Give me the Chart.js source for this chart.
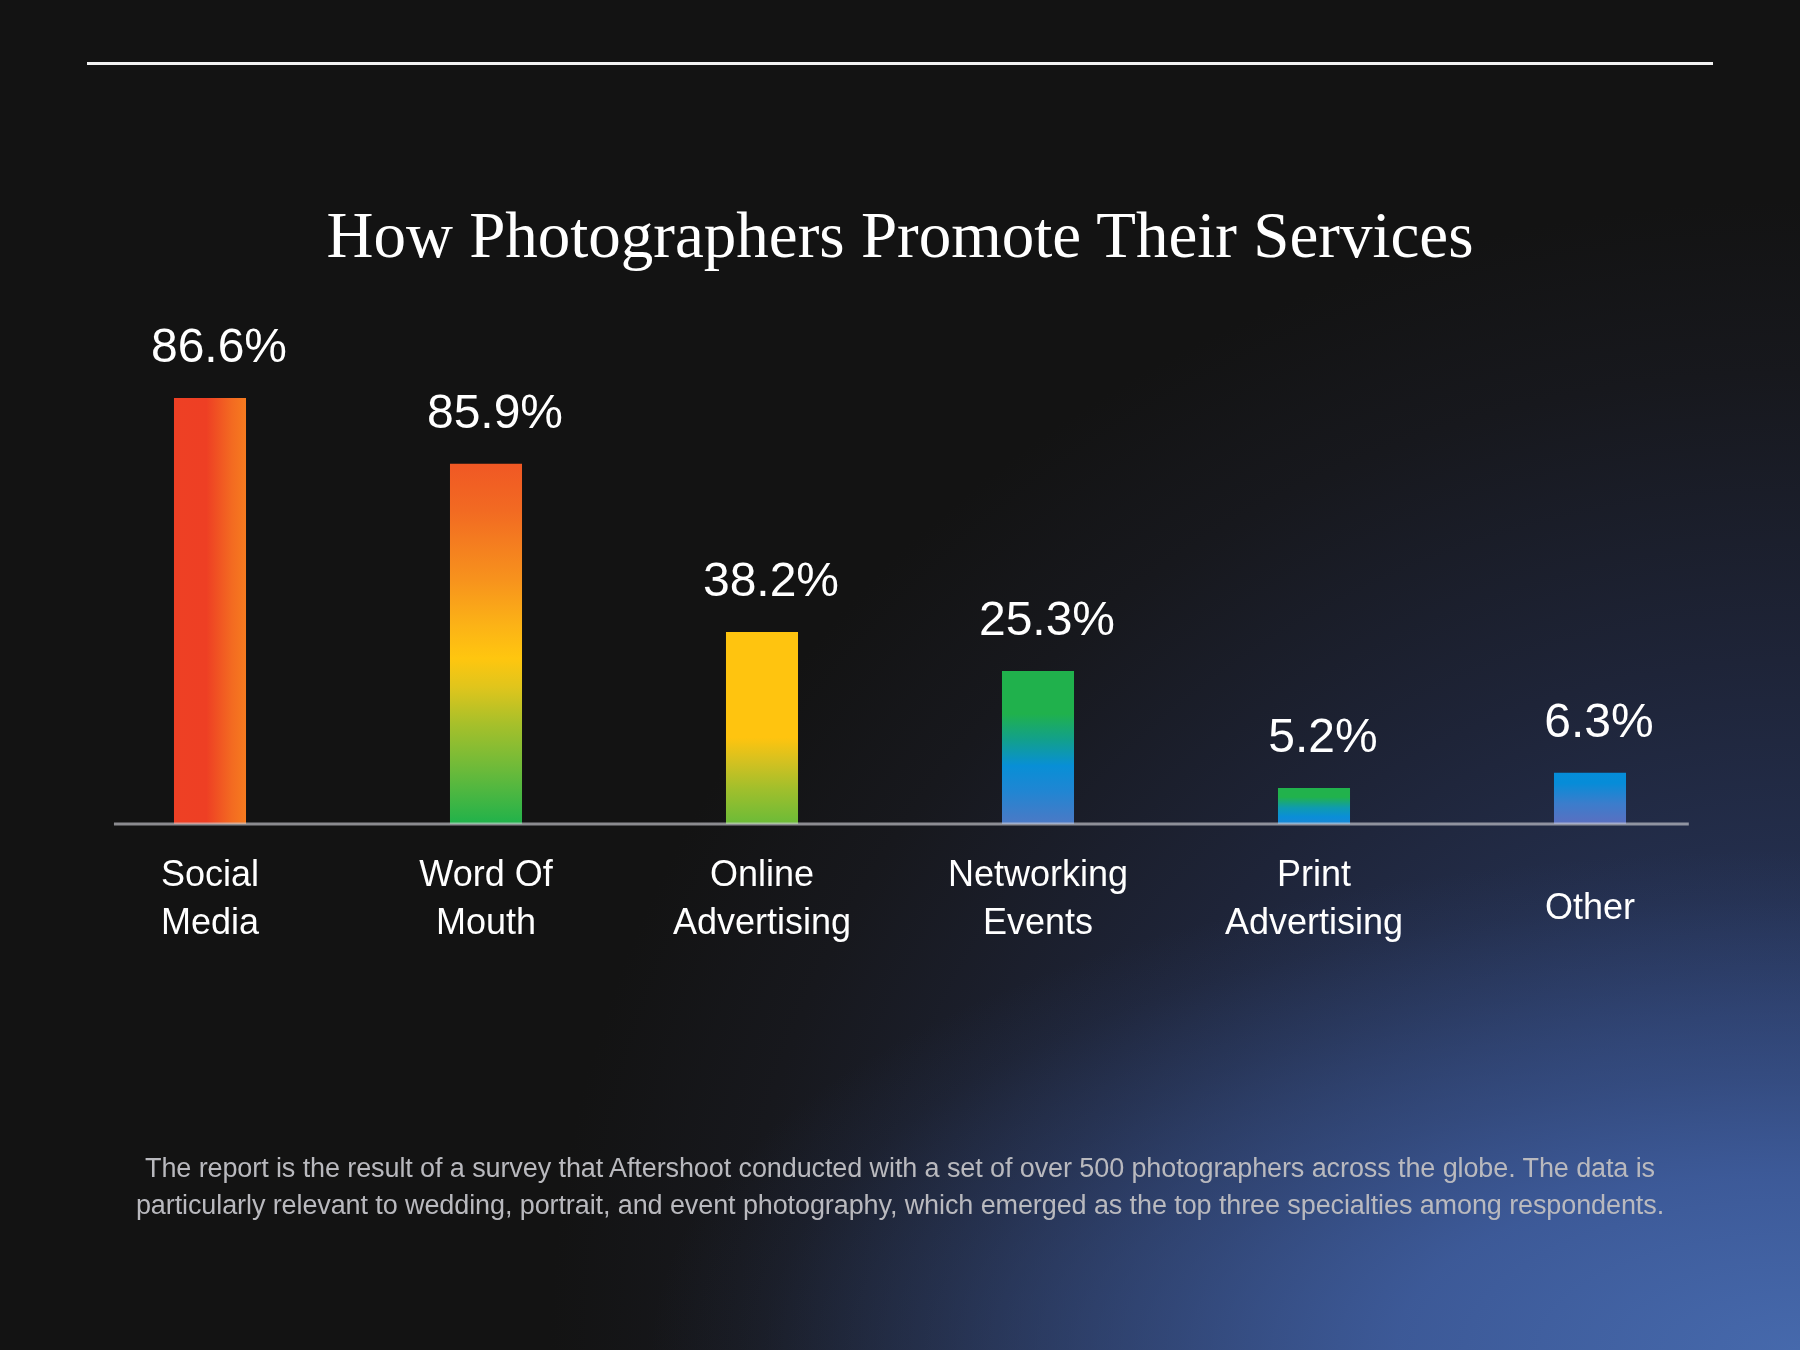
<!DOCTYPE html>
<html lang="en">
<head>
<meta charset="utf-8">
<title>How Photographers Promote Their Services</title>
<script src="https://cdn.jsdelivr.net/npm/chart.js@4.4.1/dist/chart.umd.min.js"></script>
<style>
  html, body {
    margin: 0;
    padding: 0;
  }
  body {
    width: 1800px;
    height: 1350px;
    position: relative;
    overflow: hidden;
    background-color: #131313;
    background-image:
      radial-gradient(1150px 500px at 100% 100%,
        rgba(70,105,172,1) 0%, rgba(62,92,156,0.93) 35%, rgba(58,85,144,0.68) 55%,
        rgba(58,85,144,0.32) 75%, rgba(58,85,144,0.09) 90%, rgba(58,85,144,0) 100%),
      radial-gradient(1250px 1150px at 100% 100%,
        #2d4070 0%, #27355a 30%, #1e2438 60%, #17181d 85%, rgba(19,19,19,0) 100%);
  }
  .rule {
    position: absolute;
    left: 87px;
    top: 62px;
    width: 1626px;
    height: 3px;
    background: #f2f2f2;
  }
  .title {
    position: absolute;
    top: 203px;
    left: 0;
    width: 1800px;
    text-align: center;
    font: 65px/65px 'Liberation Serif', 'DejaVu Serif', serif;
    color: #ffffff;
  }
  .note {
    position: absolute;
    top: 1150px;
    left: 0;
    width: 1800px;
    text-align: center;
    font: 27px/37px 'Liberation Sans', Arial, sans-serif;
    letter-spacing: -0.1px;
    color: #b9b9be;
  }
  #chart {
    position: absolute;
    left: 0;
    top: 0;
  }
</style>
</head>
<body>

<div class="rule"></div>
<div class="title">How Photographers Promote Their Services</div>
<canvas id="chart" width="1800" height="1350"></canvas>
<div class="note">
  The report is the result of a survey that Aftershoot conducted with a set of over 500 photographers across the globe. The data is<br>
  particularly relevant to wedding, portrait, and event photography, which emerged as the top three specialties among respondents.
</div>

<script>
/* =====================================================
   Data
===================================================== */
const categories = [
  ['Social', 'Media'],
  ['Word Of', 'Mouth'],
  ['Online', 'Advertising'],
  ['Networking', 'Events'],
  ['Print', 'Advertising'],
  'Other'
];

// percentages printed above the bars
const percentLabels = [86.6, 85.9, 38.2, 25.3, 5.2, 6.3];

// bar heights as drawn in the picture (same % units as the first bar)
const barHeights = [86.6, 73.2, 39.0, 31.1, 7.3, 10.4];

/* =====================================================
   Bar gradients
===================================================== */
const barGradients = [
  { dir: 'h', stops: [[0, '#ee4024'], [0.45, '#ee3f24'], [0.8, '#f36a21'], [1, '#f67b1f']] },
  { dir: 'v', stops: [[0, '#f05824'], [0.13, '#f26a22'], [0.32, '#f7921d'], [0.45, '#fcb316'],
                      [0.54, '#ffc60f'], [0.62, '#e0c51c'], [0.72, '#a8c02a'], [0.85, '#6bba3a'], [1, '#20b24b']] },
  { dir: 'v', stops: [[0, '#ffc40f'], [0.55, '#ffc40f'], [0.68, '#d2c121'], [0.82, '#a0bf2c'], [1, '#6bbb38']] },
  { dir: 'v', stops: [[0, '#20b14c'], [0.28, '#20b14c'], [0.45, '#12a08c'], [0.62, '#088fd6'], [0.78, '#1f86d3'], [1, '#4c79c5']] },
  { dir: 'v', stops: [[0, '#21b24c'], [0.25, '#21b24c'], [0.55, '#0f9bb0'], [0.8, '#0a8ed8'], [1, '#1a87d6']] },
  { dir: 'v', stops: [[0, '#058dd9'], [0.2, '#068cd8'], [0.6, '#3b7dcc'], [1, '#5b6fc0']] }
];

const BAR_PCT = 0.261;
const TICK_FONT = '"Liberation Sans", Arial, sans-serif';

function barFill(ctx) {
  const chart = ctx.chart;
  const g = barGradients[ctx.dataIndex];
  if (!chart.chartArea || !g) return '#888';
  const xs = chart.scales.x, ys = chart.scales.y;
  let grad;
  if (g.dir === 'h') {
    const cx = xs.getPixelForValue(ctx.dataIndex);
    const half = (xs.width / categories.length) * BAR_PCT / 2;
    grad = chart.ctx.createLinearGradient(cx - half, 0, cx + half, 0);
  } else {
    const top = ys.getPixelForValue(barHeights[ctx.dataIndex]);
    const bottom = ys.getPixelForValue(0);
    grad = chart.ctx.createLinearGradient(0, top, 0, bottom);
  }
  g.stops.forEach(([o, c]) => grad.addColorStop(o, c));
  return grad;
}

/* =====================================================
   Plugins: baseline + value labels
===================================================== */
const barDecor = {
  id: 'barDecor',
  afterDatasetsDraw(chart) {
    const { ctx } = chart;
    const xs = chart.scales.x, ys = chart.scales.y;
    const step = xs.width / categories.length;

    // baseline
    const y0 = ys.getPixelForValue(0);
    ctx.save();
    ctx.strokeStyle = 'rgba(205,205,210,0.65)';
    ctx.lineWidth = 3;
    ctx.beginPath();
    ctx.moveTo(xs.getPixelForValue(0) - step * 0.348, y0);
    ctx.lineTo(xs.getPixelForValue(categories.length - 1) + step * 0.358, y0);
    ctx.stroke();

    // value labels
    ctx.fillStyle = '#ffffff';
    ctx.font = '48px "Liberation Sans", Arial, sans-serif';
    ctx.textAlign = 'center';
    ctx.textBaseline = 'alphabetic';
    chart.getDatasetMeta(0).data.forEach((bar, i) => {
      ctx.fillText(percentLabels[i].toFixed(1) + '%', bar.x + 9, bar.y - 36);
    });
    ctx.restore();
  }
};

/* =====================================================
   Chart
===================================================== */
new Chart(document.getElementById('chart'), {
  type: 'bar',
  data: {
    labels: categories,
    datasets: [{
      data: barHeights,
      backgroundColor: barFill,
      borderWidth: 0,
      barPercentage: BAR_PCT,
      categoryPercentage: 1
    }]
  },
  options: {
    responsive: false,
    animation: false,
    devicePixelRatio: 1,
    layout: { padding: { left: 72, right: 72, top: 332, bottom: 406 } },
    plugins: {
      legend: { display: false },
      tooltip: { enabled: false }
    },
    scales: {
      x: {
        offset: true,
        border: { display: false },
        grid: { display: false, drawTicks: false },
        ticks: {
          color: '#ffffff',
          padding: 52,
          crossAlign: 'center',
          maxRotation: 0,
          autoSkip: false,
          // single-line labels sit a little below the middle of the two-line ones
          font: (c) => ({
            family: TICK_FONT,
            size: 36,
            lineHeight: Array.isArray(categories[c.index]) ? 1.3333 : 0.8333
          })
        },
        afterFit(scale) { scale.height = 120; }
      },
      y: {
        display: false,
        min: 0,
        max: 100
      }
    }
  },
  plugins: [barDecor]
});
</script>
</body>
</html>
